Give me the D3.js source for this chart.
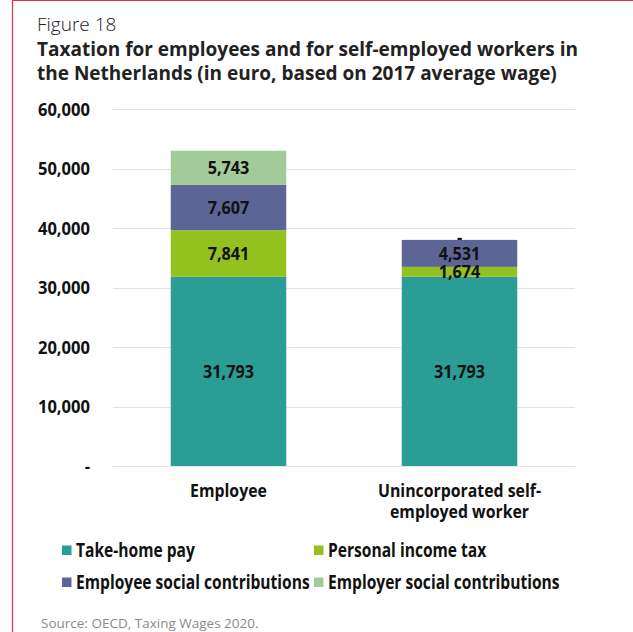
<!DOCTYPE html>
<html><head><meta charset="utf-8">
<script src="https://cdn.jsdelivr.net/npm/d3@7"></script>
<style>
body{margin:0;background:#fff;}
svg{display:block;}
.cond{font-family:"Open Sans",sans-serif;font-weight:bold;}
</style></head>
<body><svg id="c" width="633" height="632"></svg>
<script>
const categories = ["Employee", "Unincorporated self-employed worker"];
const categoryLines = [["Employee"], ["Unincorporated self-", "employed worker"]];
const seriesNames = ["Take-home pay", "Personal income tax", "Employee social contributions", "Employer social contributions"];
const takeHome = [31793, 31793];
const incomeTax = [7841, 1674];
const employeeSC = [7607, 4531];
const employerSC = [5743, 0];
const seriesColors = ["#2a9d96", "#95c11f", "#5c6596", "#a3cb9a"];
const yTicks = [0, 10000, 20000, 30000, 40000, 50000, 60000];

function condense(sel, f){
  sel.each(function(){
    const w = this.getComputedTextLength();
    d3.select(this).attr("textLength", w*f).attr("lengthAdjust","spacingAndGlyphs");
  });
}

const svg = d3.select("#c");
svg.append("line").attr("x1",12.5).attr("x2",12.5).attr("y1",0).attr("y2",632).attr("stroke","#e8323c").attr("stroke-width",1.2);
svg.append("line").attr("x1",12).attr("x2",633).attr("y1",0.5).attr("y2",0.5).attr("stroke","#e8323c").attr("stroke-width",1.2);

svg.append("text").attr("x",37).attr("y",31).attr("font-family","Open Sans, sans-serif").attr("font-weight",300).attr("font-size",19).attr("fill","#222").text("Figure 18");
const tl = ["Taxation for employees and for self-employed workers in","the Netherlands (in euro, based on 2017 average wage)"];
svg.selectAll("text.title").data(tl).join("text").attr("class","title")
  .attr("x",37).attr("y",(d,i)=>56+i*24).attr("font-family","Open Sans, sans-serif").attr("font-weight",700).attr("font-size",19).attr("fill","#222").text(d=>d);

const x = d3.scaleBand().domain(categories).range([113,575]).paddingInner(0.5).paddingOuter(0.25);
const y = d3.scaleLinear().domain([0,60000]).range([466,109]);

svg.append("g").selectAll("line").data(yTicks).join("line")
  .attr("x1",113).attr("x2",575).attr("y1",d=>Math.round(y(d))+0.5).attr("y2",d=>Math.round(y(d))+0.5)
  .attr("stroke","#e3e3e3").attr("stroke-width",1.2);

const yAxis = d3.axisLeft(y).tickValues(yTicks).tickSize(0).tickPadding(0)
  .tickFormat(d=> d===0 ? "-" : d3.format(",")(d));
const ya = svg.append("g").attr("transform","translate(90,0)").call(yAxis);
ya.select(".domain").remove();
ya.selectAll("text").attr("class","cond").attr("font-size",18).attr("fill","#111").attr("dy","0.36em").attr("font-family",null);
condense(ya.selectAll("text"), 0.92);

const rows = categories.map((c,i)=>({cat:c, v:[takeHome[i],incomeTax[i],employeeSC[i],employerSC[i]]}));
const stack = d3.stack().keys([0,1,2,3]).value((d,k)=>d.v[k]);
const series = stack(rows);

series.forEach((s,k)=>{
  svg.append("g").selectAll("rect").data(s).join("rect")
    .attr("x",d=>x(d.data.cat)).attr("width",x.bandwidth())
    .attr("y",d=>y(d[1])).attr("height",d=>y(d[0])-y(d[1]))
    .attr("fill",seriesColors[k]);
});
series.forEach((s,k)=>{
  const t = svg.append("g").selectAll("text").data(s).join("text").attr("class","cond")
    .attr("x",d=>x(d.data.cat)+x.bandwidth()/2)
    .attr("y",d=>(y(d[0])+y(d[1]))/2).attr("dy",d=>(d[1]-d[0])===0 ? "0.25em" : "0.36em")
    .attr("text-anchor","middle").attr("font-size",18).attr("fill","#111")
    .text(d=> (d[1]-d[0])===0 ? "-" : d3.format(",")(d[1]-d[0]));
  condense(t, 0.9);
});

categories.forEach((c,i)=>{
  const t = svg.append("g").selectAll("text").data(categoryLines[i]).join("text").attr("class","cond")
    .attr("x",x(c)+x.bandwidth()/2).attr("y",(d,j)=>497+j*21).attr("text-anchor","middle")
    .attr("font-size",18).attr("fill","#111").text(d=>d);
  condense(t, 0.88);
});

const legPos = [[62,550],[314,550],[62,582],[314,582]];
seriesNames.forEach((n,k)=>{
  const g = svg.append("g").attr("transform",`translate(${legPos[k][0]},${legPos[k][1]})`);
  g.append("rect").attr("x",0).attr("y",-4.5).attr("width",9.5).attr("height",9.5).attr("fill",seriesColors[k]);
  const t = g.append("text").attr("class","cond").attr("x",14).attr("y",0).attr("dy","0.36em").attr("font-size",19).attr("fill","#111").text(n);
  condense(t, 0.82);
});

svg.append("text").attr("x",41).attr("y",628).attr("font-family","Open Sans, sans-serif").attr("font-size",13.5).attr("fill","#8a8a8a").text("Source: OECD, Taxing Wages 2020.");
</script></body></html>
